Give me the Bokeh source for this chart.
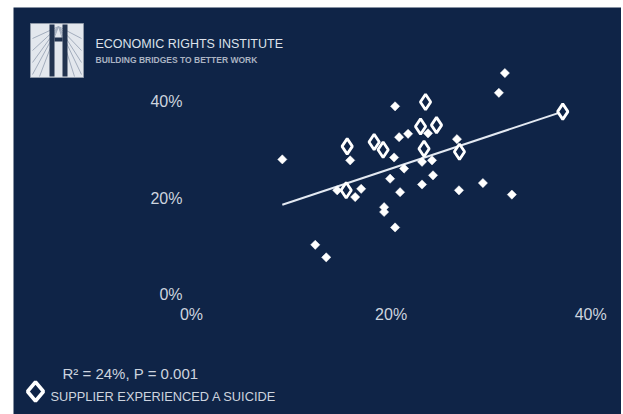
from bokeh.plotting import figure
from bokeh.models import (FixedTicker, NumeralTickFormatter, Label, BoxAnnotation,
                          PolyAnnotation, Arrow, Range1d, Spacer)
from bokeh.layouts import row, column
from bokeh.embed import file_html
from bokeh.resources import INLINE

# ---------------- data ----------------
x_ticks = [0.0, 0.2, 0.4]
y_ticks = [0.0, 0.2, 0.4]

# suppliers without a suicide (small filled diamonds)
filled_x = [0.091, 0.124, 0.135, 0.146, 0.159, 0.164, 0.170, 0.193, 0.193, 0.199,
            0.203, 0.204, 0.204, 0.208, 0.209, 0.213, 0.217, 0.231, 0.231, 0.237,
            0.241, 0.242, 0.266, 0.268, 0.292, 0.308, 0.314, 0.321]
filled_y = [0.280, 0.103, 0.077, 0.216, 0.278, 0.202, 0.219, 0.181, 0.171, 0.240,
            0.284, 0.390, 0.139, 0.326, 0.212, 0.261, 0.333, 0.275, 0.228, 0.334,
            0.278, 0.247, 0.322, 0.216, 0.231, 0.418, 0.459, 0.207]

# suppliers that experienced a suicide (large hollow diamonds)
hollow_x = [0.156, 0.155, 0.183, 0.192, 0.2345, 0.2295, 0.2455, 0.233, 0.2685, 0.372]
hollow_y = [0.307, 0.216, 0.316, 0.300, 0.399, 0.348, 0.351, 0.302, 0.296, 0.379]

# regression line end points
trend_x = [0.091, 0.372]
trend_y = [0.186, 0.379]

r2_text = "R² = 24%, P = 0.001"
legend_label = "SUPPLIER EXPERIENCED A SUICIDE"
org_name = "ECONOMIC RIGHTS INSTITUTE"
org_tagline = "BUILDING BRIDGES TO BETTER WORK"

# ---------------- styling ----------------
BG = "#0f2447"
TXT = "#cdd4df"
FONT = "Liberation Sans"
W, H = 608, 407


def sy(fy):
    """top-down pixel -> screen units (measured up from the frame bottom)"""
    return H - fy


p = figure(width=W, height=H, output_backend="svg", toolbar_location=None,
           x_range=Range1d(-0.17836, 0.43086), y_range=Range1d(-0.24870, 0.59482),
           background_fill_color=BG, border_fill_color=BG, outline_line_color=None,
           min_border=0)
p.grid.visible = False

for ax, ticks, standoff in ((p.xaxis[0], x_ticks, 5), (p.yaxis[0], y_ticks, 3)):
    ax.ticker = FixedTicker(ticks=ticks)
    ax.formatter = NumeralTickFormatter(format="0%")
    ax.axis_line_color = None
    ax.major_tick_line_color = None
    ax.minor_tick_line_color = None
    ax.major_label_text_color = TXT
    ax.major_label_text_font = FONT
    ax.major_label_text_font_size = "16px"
    ax.major_label_standoff = standoff
    ax.fixed_location = 0

# trend line, then markers
p.line(trend_x, trend_y, line_color="#e3e9f2", line_width=2)
p.scatter(filled_x, filled_y, marker="square", angle=45, angle_units="deg", size=6.5,
          fill_color="white", line_color="white", line_width=0.5)
p.scatter(hollow_x, hollow_y, marker="diamond", size=15.5, fill_color=BG,
          line_color="white", line_width=2.8)

# ---------------- logo ----------------
p.add_layout(BoxAnnotation(left=17, right=70, top=sy(16), bottom=sy(70),
                           left_units="screen", right_units="screen",
                           top_units="screen", bottom_units="screen",
                           fill_color="#e3e7ed", fill_alpha=1,
                           line_color="#8f99a8", line_alpha=1, line_width=1))
for ex, ey in ((19, 31), (19, 43), (19, 55), (19, 67), (26, 69), (68, 31), (68, 43),
               (68, 55), (68, 67), (61, 69)):
    p.add_layout(Arrow(end=None, x_start=45, y_start=sy(19), x_end=ex, y_end=sy(ey),
                       start_units="screen", end_units="screen",
                       line_color="#a3adbd", line_width=1))
for xs in ((36, 41, 41, 36), (49, 54, 54, 49)):
    p.add_layout(PolyAnnotation(xs=list(xs), ys=[sy(17), sy(17), sy(69), sy(69)],
                                xs_units="screen", ys_units="screen",
                                fill_color="#22334f", fill_alpha=1, line_color=None))
p.add_layout(PolyAnnotation(xs=[41, 49, 49, 41], ys=[sy(30), sy(30), sy(34), sy(34)],
                            xs_units="screen", ys_units="screen",
                            fill_color="#22334f", fill_alpha=1, line_color=None))

p.add_layout(Label(x=82, y=sy(36), x_units="screen", y_units="screen", text=org_name,
                   text_font=FONT, text_font_size="12.5px", text_color="#dde2ea",
                   text_baseline="middle", text_align="left"))
p.add_layout(Label(x=82, y=sy(52), x_units="screen", y_units="screen", text=org_tagline,
                   text_font=FONT, text_font_size="8.5px", text_font_style="bold",
                   text_color="#aab3c2", text_baseline="middle", text_align="left"))

# ---------------- statistics and legend ----------------
p.add_layout(Label(x=49, y=sy(366), x_units="screen", y_units="screen", text=r2_text,
                   text_font=FONT, text_font_size="15px", text_color=TXT,
                   text_baseline="middle", text_align="left"))
p.add_layout(PolyAnnotation(xs=[22, 30, 22, 14], ys=[sy(374.5), sy(384), sy(393.5), sy(384)],
                            xs_units="screen", ys_units="screen",
                            fill_color=BG, fill_alpha=1, line_color="white",
                            line_alpha=1, line_width=3.5))
p.add_layout(Label(x=37, y=sy(389), x_units="screen", y_units="screen", text=legend_label,
                   text_font=FONT, text_font_size="12.8px", text_color=TXT,
                   text_baseline="middle", text_align="left"))

layout = column(Spacer(width=10, height=7),
                row(Spacer(width=13, height=H), p))
open("out.html", "w").write(file_html(layout, INLINE))
